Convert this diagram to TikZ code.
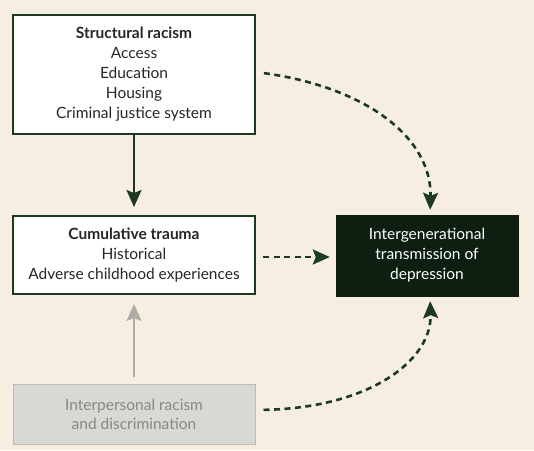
\documentclass[tikz,border=0pt]{standalone}
\usepackage{fontspec}
\setmainfont{Lato}
\usetikzlibrary{arrows.meta,positioning}
\definecolor{pathwaygreen}{RGB}{28,58,30}
\definecolor{pathwaydark}{RGB}{12,31,16}
\definecolor{pathwaybeige}{RGB}{247,238,226}
\definecolor{pathwaygrey}{RGB}{217,216,212}
\definecolor{pathwaygreyline}{RGB}{188,187,183}
\definecolor{pathwaygreytext}{RGB}{135,135,132}
\definecolor{pathwaygreyarrow}{RGB}{172,172,168}
\tikzset{
 factorbox/.style={draw=pathwaygreen,line width=2pt,fill=white,minimum width=242pt,
  align=center,text=black!85,font=\fontsize{15.5}{20}\selectfont},
 outcomebox/.style={draw=pathwaydark,fill=pathwaydark,minimum width=182pt,minimum height=81pt,
  align=center,text=white,font=\fontsize{15.5}{20}\selectfont},
 greybox/.style={draw=pathwaygreyline,line width=1pt,fill=pathwaygrey,minimum width=242pt,
  minimum height=60pt,align=center,text=pathwaygreytext,font=\fontsize{15.5}{19}\selectfont},
 headtip/.style={-{Stealth[length=17pt,width=15pt,inset=3pt]}},
 causal/.style={headtip,draw=pathwaygreen,line width=2pt},
 weak/.style={headtip,draw=pathwaygreyarrow,line width=2pt},
 indirect/.style={headtip,draw=pathwaygreen,line width=2.6pt,dash pattern=on 6pt off 4.5pt,line cap=butt}
}
\begin{document}
\begin{tikzpicture}[x=1pt,y=-1pt]
\fill[pathwaybeige] (0,0) rectangle (534,450);
\node[factorbox,minimum height=119pt] (structural) at (134,74.5)
 {\textbf{Structural racism}\\Access\\Education\\Housing\\Criminal justice system};
\node[factorbox,minimum height=78pt] (trauma) at (134,255)
 {\textbf{Cumulative trauma}\\Historical\\Adverse childhood experiences};
\node[outcomebox] (depression) at (427,255.5)
 {Intergenerational\\transmission of\\depression};
\node[greybox] (interpersonal) at (134,414)
 {Interpersonal racism\\and discrimination};
\draw[causal,shorten >=8pt] (structural) -- (trauma);
\draw[weak,shorten <=7pt,shorten >=9pt] (interpersonal) -- (trauma);
\draw[indirect,shorten <=7pt,shorten >=6pt] (trauma.east) ++(0,2) coordinate (tr) (tr) -- (tr -| depression.west);
\draw[indirect,shorten <=8pt,shorten >=5pt] ([yshift=2.5pt]structural.east)
 .. controls (370,88) and (432,140) .. ([xshift=3pt]depression.north);
\draw[indirect,shorten <=8pt,shorten >=5pt] ([yshift=4pt]interpersonal.east)
 .. controls (370,408) and (432,360) .. ([xshift=3pt]depression.south);
\end{tikzpicture}
\end{document}
